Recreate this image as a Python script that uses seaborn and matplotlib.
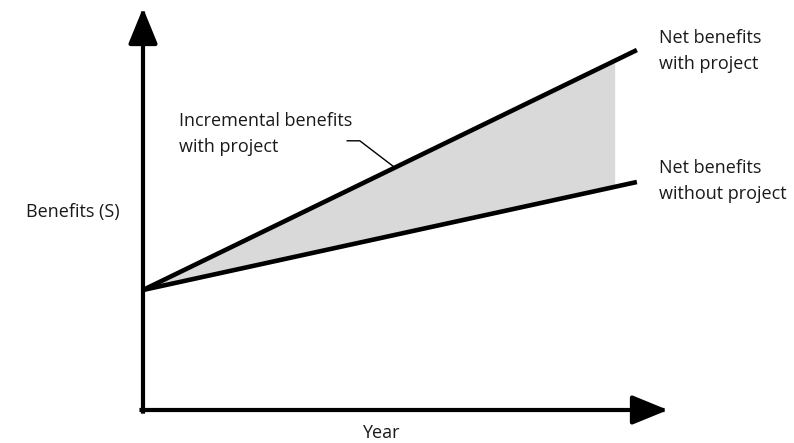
import numpy as np
import pandas as pd
import matplotlib
matplotlib.use("Agg")
import matplotlib.pyplot as plt
import seaborn as sns

# schematic values (arbitrary units)
years = [0, 10]
with_project = [3.0, 9.0]
without_project = [3.0, 5.7]
shade_end = 9.55          # shading stops a bit before the line ends
x_max, y_max = 10.63, 10.0

sns.set_style("white")
plt.rcParams["font.family"] = ["Open Sans", "DejaVu Sans"]

df = pd.DataFrame({
    "Year": years * 2,
    "Benefits": with_project + without_project,
    "case": ["with"] * 2 + ["without"] * 2,
})

fig = plt.figure(figsize=(7.94, 4.43), dpi=100)
# axes placed so the origin sits at the corner of the drawn axis arrows
ax = fig.add_axes([143 / 794, 33 / 443, (668 - 143) / 794, 400 / 443])
ax.set_xlim(0, x_max)
ax.set_ylim(0, y_max)

# shaded gap between the two paths
xs = np.linspace(0, shade_end, 50)
ax.fill_between(xs, np.interp(xs, years, without_project),
                np.interp(xs, years, with_project),
                color="#d9d9d9", linewidth=0, zorder=1)

sns.lineplot(data=df, x="Year", y="Benefits", units="case", estimator=None,
             color="black", linewidth=3.3, ax=ax, zorder=3,
             solid_capstyle="butt")

# axis arrows
arrow = dict(arrowstyle="-|>,head_length=1.1,head_width=0.45",
             mutation_scale=20, color="black", linewidth=3.0,
             shrinkA=0, shrinkB=0, capstyle="projecting")
ax.annotate("", xy=(x_max, 0), xytext=(-0.03, 0), arrowprops=arrow,
            annotation_clip=False)
ax.annotate("", xy=(0, y_max + 0.05), xytext=(0, -0.04), arrowprops=arrow,
            annotation_clip=False)

for s in ax.spines.values():
    s.set_visible(False)
ax.set_xticks([])
ax.set_yticks([])
ax.set_xlabel("")
ax.set_ylabel("")

fs = 13
tc = "#1a1a1a"
ax.text(-1.42, 4.95, "Benefits (S)", fontsize=fs, color=tc,
        ha="center", va="center")
ax.text(4.82, -0.58, "Year", fontsize=fs, color=tc, ha="center", va="center")
ax.text(10.45, 8.98, "Net benefits\nwith project", fontsize=fs, color=tc,
        ha="left", va="center", linespacing=1.6)
ax.text(10.45, 5.72, "Net benefits\nwithout project", fontsize=fs, color=tc,
        ha="left", va="center", linespacing=1.6)
ax.text(0.73, 6.9, "Incremental benefits\nwith project", fontsize=fs,
        color=tc, ha="left", va="center", linespacing=1.6)

# leader from label to the upper line
x_touch = 5.1
y_touch = np.interp(x_touch, years, with_project)
ax.plot([4.13, 4.39, x_touch], [6.73, 6.73, y_touch], color="black",
        linewidth=1.0, zorder=2)

fig.savefig("out.png", dpi=100)
